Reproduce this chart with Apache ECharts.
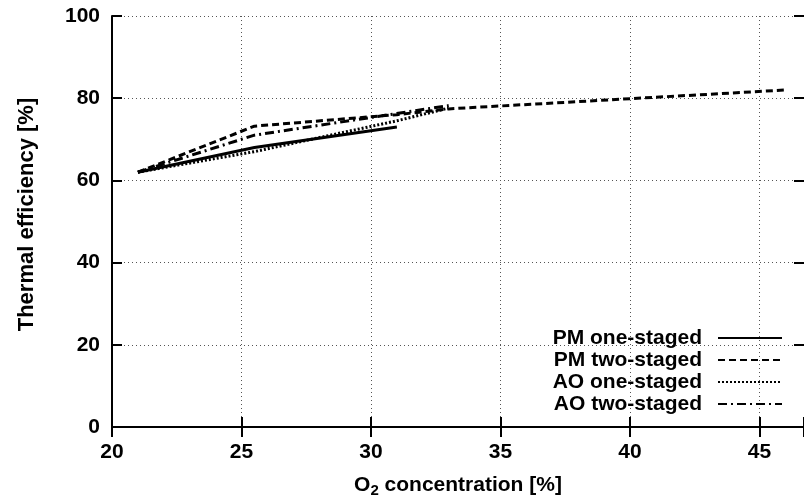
<!DOCTYPE html>
<html>
<head>
<meta charset="utf-8">
<script src="https://cdn.jsdelivr.net/npm/echarts@6/dist/echarts.min.js"></script>
<style>
html,body{margin:0;padding:0;background:#fff;overflow:hidden;}
#chart{width:804px;height:497px;}
</style>
</head>
<body>
<div id="chart"></div>
<script>
// Data
const seriesNames = ['PM one-staged', 'PM two-staged', 'AO one-staged', 'AO two-staged'];
const pmOneStaged = [[21, 62], [25.5, 68], [31, 73]];
const pmTwoStaged = [[21, 62], [25.5, 73.2], [31, 76], [33, 77.4], [46, 82]];
const aoOneStaged = [[21, 62], [25.5, 67], [31, 74.5], [33, 77.6]];
const aoTwoStaged = [[21, 62], [25.5, 71], [33, 78.2]];
const xTicks = [20, 25, 30, 35, 40, 45];
const yTicks = [0, 20, 40, 60, 80, 100];

const FONT = 'Liberation Sans';
const FS = 21;
const chart = echarts.init(document.getElementById('chart'), null, {renderer: 'canvas'});

const dashStyles = ['solid', [7, 4], [2, 2], [9, 4, 2, 4]];
const allData = [pmOneStaged, pmTwoStaged, aoOneStaged, aoTwoStaged];

const gridLine = {show: true, lineStyle: {color: '#555', width: 1, type: [1, 3]}};

chart.setOption({
  animation: false,
  backgroundColor: '#fff',
  grid: {left: 112, top: 16, right: 0, height: 411, containLabel: false, outerBoundsMode: 'none'},
  xAxis: [{
    type: 'value', min: 20, max: 46.72, interval: 5, position: 'bottom',
    name: '{a|O}{s|2}{a| concentration [%]}',
    nameLocation: 'middle', nameGap: 46,
    nameTextStyle: {rich: {
      a: {fontFamily: FONT, fontSize: FS, fontWeight: 'bold', color: '#000'},
      s: {fontFamily: FONT, fontSize: 15, fontWeight: 'bold', color: '#000', padding: [10, 0, 0, 0]}
    }},
    axisLine: {show: true, lineStyle: {color: '#000', width: 2}},
    axisTick: {show: true, inside: true, length: 10, lineStyle: {color: '#000', width: 2}},
    axisLabel: {
      show: true, margin: 15, color: '#000', fontFamily: FONT, fontSize: FS, fontWeight: 'bold',
      formatter: v => (xTicks.indexOf(v) >= 0 ? String(v) : '')
    },
    splitLine: gridLine
  }, {
    type: 'value', min: 20, max: 46.72, interval: 5, position: 'top',
    axisLine: {show: true, lineStyle: {color: '#000', width: 2}},
    axisTick: {show: true, inside: true, length: 10, lineStyle: {color: '#000', width: 2}},
    axisLabel: {show: false},
    splitLine: {show: false}
  }],
  yAxis: [{
    type: 'value', min: 0, max: 100, interval: 20, position: 'left',
    name: 'Thermal efficiency [%]',
    nameLocation: 'middle', nameGap: 74, nameRotate: 90,
    nameTextStyle: {fontFamily: FONT, fontSize: 22, fontWeight: 'bold', color: '#000', padding: [0, 0, 0, 14]},
    axisLine: {show: true, lineStyle: {color: '#000', width: 2}},
    axisTick: {show: true, inside: true, length: 10, lineStyle: {color: '#000', width: 2}},
    axisLabel: {
      show: true, margin: 12, color: '#000', fontFamily: FONT, fontSize: FS, fontWeight: 'bold',
      formatter: v => (yTicks.indexOf(v) >= 0 ? String(v) : '')
    },
    splitLine: gridLine
  }, {
    type: 'value', min: 0, max: 100, interval: 20, position: 'right',
    axisLine: {show: false},
    axisTick: {show: true, inside: true, length: 10, lineStyle: {color: '#000', width: 2}},
    axisLabel: {show: false},
    splitLine: {show: false}
  }],
  legend: {
    orient: 'vertical', right: 21, top: 327, padding: 0,
    align: 'right', itemWidth: 64, itemHeight: 22, itemGap: 0,
    data: seriesNames,
    itemStyle: {opacity: 0},
    textStyle: {fontFamily: FONT, fontSize: FS, fontWeight: 'bold', color: '#000', lineHeight: 22, padding: [0, 11, 0, 0]}
  },
  series: seriesNames.map((n, i) => ({
    name: n, type: 'line', data: allData[i], xAxisIndex: 0, yAxisIndex: 0,
    symbol: 'none', showSymbol: false, smooth: false,
    lineStyle: {color: '#000', width: 3, type: dashStyles[i]},
    itemStyle: {color: '#000'},
    z: 10 - i
  }))
});
</script>
</body>
</html>
